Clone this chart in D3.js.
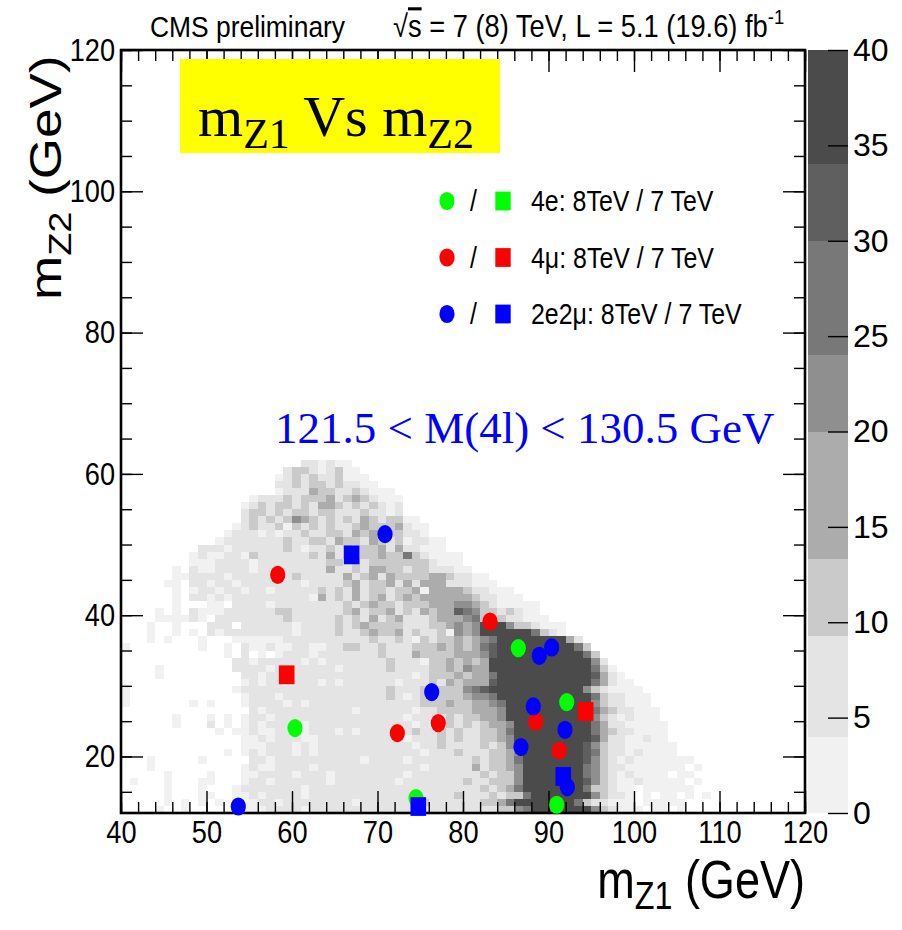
<!DOCTYPE html>
<html><head><meta charset="utf-8">
<script src="https://cdn.jsdelivr.net/npm/d3@7"></script>
<style>
body{margin:0;background:#fff}
svg{display:block}
</style>
</head><body>
<svg id="chart" width="902" height="930"></svg>
<script>
// ---------- axis ranges and ticks ----------
const xDomain = [40, 120];
const yDomain = [12, 120];
const zDomain = [0, 40];
const xMajorTicks = [40, 50, 60, 70, 80, 90, 100, 110, 120];
const xMinorTicks = d3.range(40, 121, 2);
const yMajorTicks = [20, 40, 60, 80, 100, 120];
const yMinorTicks = d3.range(15, 121, 5);
const zTicks = [0, 5, 10, 15, 20, 25, 30, 35, 40];

// ---------- palette of the event-density map ----------
const zBandEdges = [4, 9.3, 13.3, 20, 24, 30, 34];
const zBandColors = ["#f1f1f1", "#e4e4e4", "#cacaca", "#acacac", "#8f8f8f", "#787878", "#5f5f5f", "#4b4b4b"];
// typical bin content for each level digit used in heatRows (0 = empty bin)
const levelCounts = [0, 2, 7, 11, 17, 22, 27, 32, 38];

// ---------- expected ZZ->4l density, 1 GeV x 1 GeV bins ----------
// [m_Z2 bin low edge, m_Z1 low edge of first bin, level digit per bin]
const heatRows = [
  [61, 61, "221211"],
  [60, 59, "233212311"],
  [59, 58, "12323223111"],
  [58, 58, "223233232211"],
  [57, 58, "12224332232111"],
  [56, 55, "122232333423432111"],
  [55, 54, "1232332324432323212"],
  [54, 54, "2332323323322232212"],
  [53, 54, "232323543232324323311"],
  [52, 53, "12322313232322343334211"],
  [51, 52, "122212122322332434333221"],
  [50, 51, "122222223223324332432312211"],
  [49, 49, "22212222223212232323342422111"],
  [48, 48, "12112213222222324232334336321111"],
  [47, 48, "11122221222222223323233333332111"],
  [46, 46, "10211222212222222242232443323322211"],
  [45, 46, "1122221222222232222242342433334432211"],
  [44, 45, "110221221222222212222342334242444222111"],
  [43, 46, "1012212212212222232324233233414444322111"],
  [42, 46, "10221212222222221423242342343444444322111"],
  [41, 46, "1000110222212222222232343323334445543211111"],
  [40, 44, "101021112222223322222234233423243447653323211"],
  [39, 44, "1111210222222223222223232423422234445633322111"],
  [38, 43, "1001000222022222212222323433332223345458885332111"],
  [37, 43, "1001010212222222212222322343342322315458888886321"],
  [36, 43, "101000100011111122222222223223213233434568888888842"],
  [35, 40, "1000000001001021121122112233223222333434346788888888863"],
  [34, 52, "10201012221222222232224333344457888888888863"],
  [33, 53, "22122222121222222232221334343488888888888852"],
  [32, 44, "100000000222212222222122222322223343544888888888888631"],
  [31, 44, "1000000000221222222222222222221233343446888888888887421"],
  [30, 54, "1212212221212222221222324344478888888888864211"],
  [29, 40, "1000000000000122222222222222222322232333567888888888885321111"],
  [28, 40, "10000000000000122212222222222223212323334556888888888886322111"],
  [27, 40, "10000000101000122221212222222222222333433445688888888885322111"],
  [26, 55, "212222222222122222212233334445888888888864322111"],
  [25, 46, "100010101221222222222222222122223233445888888888853212111"],
  [24, 46, "1000201012122221222222222222121232323445888888888642211111"],
  [23, 51, "10112112221222121222222322323223346888888888643221111"],
  [22, 54, "11212221122222222221222323223345888888888742211211"],
  [21, 54, "111222121222222222221223222232358888888875322111111"],
  [20, 52, "10121222121222222222222122232223345888888876322121111"],
  [19, 43, "1000001000002212222222222122221222222232334688888887532121111111"],
  [18, 43, "10000000000121122221222222222222122222423345888888865322111111101"],
  [17, 45, "10000100011222212221222222221222222223233588888886532121111011"],
  [16, 41, "1000100011000122122222212222222122222223223335888888875321121111101"],
  [15, 45, "10001000122222221222222222222222222223234688888886332110111111"],
  [14, 45, "1000110011212222122222222222222222322232336888888853221010110101"],
  [13, 45, "1010101011122122222222122222223222222334688888886322111011111"],
  [12, 44, "100100000011122221222222222222222222222233568888888532111011010"]
];

// ---------- candidate events (m_Z1, m_Z2) in GeV ----------
const ch4e_8TeV = [[60.35, 24.02], [74.50, 14.11], [86.47, 35.34], [92.13, 27.70], [90.96, 13.17]];
const ch4e_7TeV = [];
const ch4mu_8TeV = [[58.33, 45.71], [72.32, 23.31], [77.11, 24.73], [83.16, 39.10], [88.50, 24.95], [91.26, 20.85]];
const ch4mu_7TeV = [[59.38, 31.56], [94.35, 26.37]];
const ch2e2mu_8TeV = [[53.72, 12.92], [70.88, 51.47], [76.34, 29.11], [88.92, 34.25], [90.37, 35.43], [86.78, 21.33], [88.22, 27.08], [91.93, 23.78], [92.20, 15.67]];
const ch2e2mu_7TeV = [[66.98, 48.54], [74.77, 12.92], [91.73, 17.17]];

const legendLabels = ["4e: 8TeV / 7 TeV", "4\u03bc: 8TeV / 7 TeV", "2e2\u03bc: 8TeV / 7 TeV"];
const channelColors = ["#00ff00", "#ff0000", "#0000ff"];

// ---------- layout ----------
const frame = {left: 121, right: 805, top: 50, bottom: 813};
const bar = {left: 808, right: 848};
const sans = "'Liberation Sans', Arial, Helvetica, sans-serif";
const serif = "'Liberation Serif', 'Times New Roman', Times, serif";

const svg = d3.select("#chart");
const x = d3.scaleLinear().domain(xDomain).range([frame.left, frame.right]);
const y = d3.scaleLinear().domain(yDomain).range([frame.bottom, frame.top]);
const z = d3.scaleLinear().domain(zDomain).range([frame.bottom, frame.top]);
const color = d3.scaleThreshold().domain(zBandEdges).range(zBandColors);

// ---------- 2D histogram cells ----------
const cells = [];
heatRows.forEach(([yb, x0, levels]) => {
  for (let i = 0; i < levels.length; i++) {
    const lv = +levels[i];
    if (lv > 0) cells.push({x: x0 + i, y: yb, n: levelCounts[lv]});
  }
});
svg.append("g").attr("shape-rendering", "crispEdges")
  .selectAll("rect").data(cells).join("rect")
  .attr("x", d => x(d.x))
  .attr("y", d => y(d.y + 1))
  .attr("width", d => x(d.x + 1) - x(d.x))
  .attr("height", d => y(d.y) - y(d.y + 1))
  .attr("fill", d => color(d.n));

// ---------- frame and ticks (ticks point inside, on all four sides) ----------
function styleAxis(g) {
  g.select(".domain").remove();
  g.selectAll("line").attr("stroke", "#000").attr("stroke-width", 1.4);
}
const axes = svg.append("g");
axes.append("g").attr("transform", `translate(0,${frame.bottom})`)
  .call(d3.axisBottom(x).tickValues(xMinorTicks).tickSizeInner(-11).tickSizeOuter(0).tickFormat(""))
  .call(styleAxis);
axes.append("g").attr("transform", `translate(0,${frame.top})`)
  .call(d3.axisTop(x).tickValues(xMinorTicks).tickSizeInner(-11).tickSizeOuter(0).tickFormat(""))
  .call(styleAxis);
axes.append("g").attr("transform", `translate(0,${frame.top})`)
  .call(d3.axisTop(x).tickValues(xMajorTicks).tickSizeInner(-22).tickSizeOuter(0).tickFormat(""))
  .call(styleAxis);
axes.append("g").attr("transform", `translate(${frame.left},0)`)
  .call(d3.axisLeft(y).tickValues(yMinorTicks).tickSizeInner(-11).tickSizeOuter(0).tickFormat(""))
  .call(styleAxis);
axes.append("g").attr("transform", `translate(${frame.right},0)`)
  .call(d3.axisRight(y).tickValues(yMinorTicks).tickSizeInner(-11).tickSizeOuter(0).tickFormat(""))
  .call(styleAxis);
axes.append("g").attr("transform", `translate(${frame.right},0)`)
  .call(d3.axisRight(y).tickValues(yMajorTicks).tickSizeInner(-22).tickSizeOuter(0).tickFormat(""))
  .call(styleAxis);

const xAxis = axes.append("g").attr("transform", `translate(0,${frame.bottom})`)
  .call(d3.axisBottom(x).tickValues(xMajorTicks).tickSizeInner(-22).tickSizeOuter(0).tickPadding(7).tickFormat(d3.format("d")))
  .call(styleAxis);
xAxis.selectAll("text").attr("font-family", sans).attr("font-size", 32).attr("fill", "#000")
  .attr("transform", "scale(0.85,1)");

const yAxis = axes.append("g").attr("transform", `translate(${frame.left},0)`)
  .call(d3.axisLeft(y).tickValues(yMajorTicks).tickSizeInner(-22).tickSizeOuter(0).tickPadding(7).tickFormat(d3.format("d")))
  .call(styleAxis);
yAxis.selectAll("text").attr("font-family", sans).attr("font-size", 32).attr("fill", "#000")
  .attr("transform", "scale(0.85,1)");

svg.append("rect")
  .attr("x", frame.left).attr("y", frame.top)
  .attr("width", frame.right - frame.left).attr("height", frame.bottom - frame.top)
  .attr("fill", "none").attr("stroke", "#000").attr("stroke-width", 2.6);

// ---------- colour scale bar ----------
const bandEdges = [zDomain[0], ...zBandEdges, zDomain[1]];
svg.append("g").attr("shape-rendering", "crispEdges")
  .selectAll("rect").data(d3.range(zBandColors.length)).join("rect")
  .attr("x", bar.left).attr("width", bar.right - bar.left)
  .attr("y", i => z(bandEdges[i + 1]))
  .attr("height", i => z(bandEdges[i]) - z(bandEdges[i + 1]))
  .attr("fill", i => color((bandEdges[i] + bandEdges[i + 1]) / 2));
const zAxis = svg.append("g").attr("transform", `translate(${bar.right},0)`)
  .call(d3.axisRight(z).tickValues(zTicks).tickSizeInner(-20).tickSizeOuter(0).tickPadding(5).tickFormat(d3.format("d")))
  .call(styleAxis);
zAxis.selectAll("text").attr("font-family", sans).attr("font-size", 32).attr("fill", "#000");

// ---------- candidate events ----------
const marks = svg.append("g");
function circles(data, fill) {
  marks.append("g").selectAll("ellipse").data(data).join("ellipse")
    .attr("cx", d => x(d[0])).attr("cy", d => y(d[1]))
    .attr("rx", 7.6).attr("ry", 9.1).attr("fill", fill);
}
function squares(data, fill) {
  marks.append("g").selectAll("rect").data(data).join("rect")
    .attr("x", d => x(d[0]) - 7.8).attr("y", d => y(d[1]) - 9.4)
    .attr("width", 15.6).attr("height", 18.8).attr("fill", fill);
}
circles(ch4e_8TeV, channelColors[0]);
squares(ch4e_7TeV, channelColors[0]);
circles(ch4mu_8TeV, channelColors[1]);
squares(ch4mu_7TeV, channelColors[1]);
circles(ch2e2mu_8TeV, channelColors[2]);
squares(ch2e2mu_7TeV, channelColors[2]);

// ---------- legend ----------
const legend = svg.append("g");
legendLabels.forEach((label, i) => {
  const cy = 201 + i * 56.5;
  legend.append("ellipse").attr("cx", 447).attr("cy", cy).attr("rx", 7.6).attr("ry", 9.1).attr("fill", channelColors[i]);
  legend.append("rect").attr("x", 503 - 7.7).attr("y", cy - 9.4).attr("width", 15.4).attr("height", 18.8).attr("fill", channelColors[i]);
  legend.append("text").attr("transform", `translate(470,${cy + 10}) scale(0.86,1)`)
    .attr("font-family", sans).attr("font-size", 29).text("/");
  legend.append("text").attr("transform", `translate(531,${cy + 10}) scale(0.86,1)`)
    .attr("font-family", sans).attr("font-size", 29).text(label);
});

// ---------- header ----------
svg.append("text").attr("transform", "translate(150,37) scale(0.88,1)")
  .attr("font-family", sans).attr("font-size", 30).text("CMS preliminary");
const energy = svg.append("text").attr("transform", "translate(393,37) scale(0.88,1)")
  .attr("font-family", sans).attr("font-size", 31);
energy.append("tspan").text("\u221a");
energy.append("tspan").attr("text-decoration", "overline").text("s");
energy.append("tspan").text(" = 7 (8) TeV, L = 5.1 (19.6) fb");
energy.append("tspan").attr("font-size", 21).attr("dy", -13).text("-1");

// ---------- axis titles ----------
const xTitle = svg.append("text").attr("transform", `translate(${frame.right},898) scale(0.85,1)`)
  .attr("font-family", sans).attr("font-size", 53).attr("text-anchor", "end");
xTitle.append("tspan").text("m");
xTitle.append("tspan").attr("font-size", 38).attr("dy", 11).text("Z1");
xTitle.append("tspan").attr("dy", -11).text(" (GeV)");

const yTitle = svg.append("text").attr("transform", "translate(61,300) scale(0.82,1) rotate(-90)")
  .attr("font-family", sans).attr("font-size", 53);
yTitle.append("tspan").text("m");
yTitle.append("tspan").attr("font-size", 38).attr("dy", 12).text("Z2");
yTitle.append("tspan").attr("dy", -12).text(" (GeV)");

// ---------- annotations ----------
svg.append("rect").attr("x", 180).attr("y", 59).attr("width", 320).attr("height", 94).attr("fill", "#ffff00");
const title = svg.append("text").attr("x", 198).attr("y", 136)
  .attr("font-family", serif).attr("font-size", 58).attr("fill", "#000");
title.append("tspan").text("m");
title.append("tspan").attr("font-size", 42).attr("dy", 12).text("Z1");
title.append("tspan").attr("dy", -12).text(" Vs m");
title.append("tspan").attr("font-size", 42).attr("dy", 12).text("Z2");

svg.append("text").attr("x", 275).attr("y", 443)
  .attr("font-family", serif).attr("font-size", 45).attr("fill", "#0000ff")
  .text("121.5 < M(4l) < 130.5 GeV");
</script>
</body></html>
